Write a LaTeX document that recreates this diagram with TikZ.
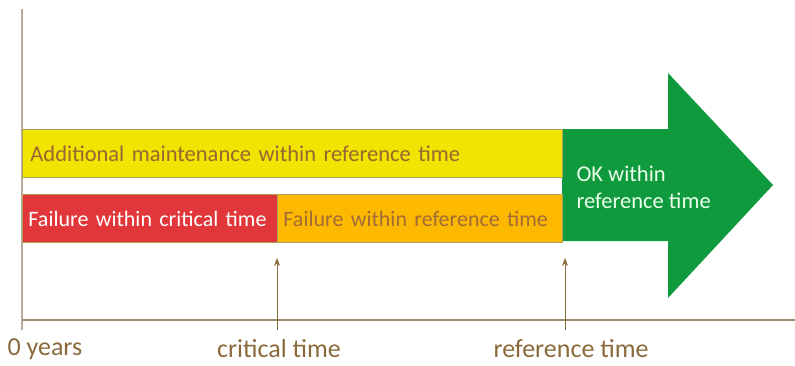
\documentclass[tikz,border=0pt]{standalone}
\usepackage{fontspec}
\setmainfont{Carlito}
\usepackage{tikz}
\usetikzlibrary{arrows.meta, positioning, calc}

\definecolor{axisbrown}{HTML}{9C8B6E}
\definecolor{labelbrown}{HTML}{8A6A3A}
\definecolor{maintyellow}{HTML}{F0E400}
\definecolor{failred}{HTML}{E2373A}
\definecolor{failorange}{HTML}{FDB800}
\definecolor{okgreen}{HTML}{109A3E}

\begin{document}
\begin{tikzpicture}[
            x=1pt, y=-1pt,
            bar/.style={draw=axisbrown!80!yellow, line width=0.9pt, anchor=north west, minimum height=48pt, inner xsep=6pt, align=left, font=\fontsize{22}{26}\selectfont},
            lbl/.style={text=labelbrown, font=\fontsize{26}{30}\selectfont},
            arr/.style={-{Stealth[length=8pt, width=6pt]}, draw=labelbrown, line width=1pt}
        ]
            \useasboundingbox (0,0) rectangle (795,365);

            % Axes
            \draw[axisbrown!70, line width=1.6pt] (22,9) -- (22,330);
            \draw[axisbrown, line width=2pt] (22,320) -- (795,320);

            % Green arrow (OK part)
            \fill[okgreen] (562,129) -- (668,129) -- (668,73) -- (773,185)
                -- (668,298) -- (668,241) -- (562,241) -- cycle;
            \node[anchor=west, align=left, text=green!8!white, font=\fontsize{22.5}{27}\selectfont] (ok) at (573,187) {OK within\\reference time};

            % Bars
            \node[bar, fill=maintyellow, text=brown!80!black, minimum width=540pt, text width=524pt, inner xsep=8pt, font=\fontsize{22.5}{26}\selectfont] (maint) at (22,129) {Additional maintenance within reference time};
            \node[bar, fill=failred, text=white, minimum width=255pt, text width=243pt] (crit) at (22,194) {Failure within critical time};
            \node[bar, fill=failorange, text=brown!85!black, minimum width=285pt, text width=273pt] (ref) at (277,194) {Failure within reference time};

            % Time marks
            \coordinate (critmark) at (277,330);
            \coordinate (refmark) at (565,330);
            \draw[arr] (critmark) -- (277,258);
            \draw[arr] (refmark) -- (565,258);

            \node[lbl, anchor=west] (zero) at (4,349) {0 years};
            \node[lbl] (crittime) at (279,349) {critical time};
            \node[lbl] (reftime) at (571,349) {reference time};

        \end{tikzpicture}
\end{document}
